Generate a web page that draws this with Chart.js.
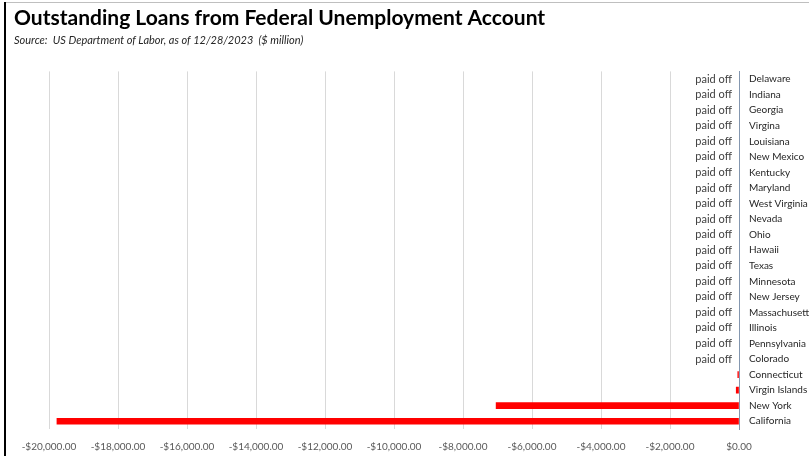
<!DOCTYPE html>
<html>
<head>
<meta charset="utf-8">
<script src="https://cdn.jsdelivr.net/npm/chart.js@4"></script>
<style>
  html, body { margin: 0; padding: 0; background: #fff; }
  #wrap { position: relative; width: 809px; height: 456px; overflow: hidden; }
  #frameTop { position: absolute; left: 5px; top: 2px; width: 804px; height: 1px; background: #bfbfbf; }
  #frameLeft { position: absolute; left: 4px; top: 2px; width: 2px; height: 454px; background: #000; }
</style>
</head>
<body>
<div id="wrap">
  <canvas id="grafica" width="809" height="456"></canvas>
  <div id="frameTop"></div>
  <div id="frameLeft"></div>
</div>
<script>
// Estados (de arriba hacia abajo)
const estados = ["Delaware", "Indiana", "Georgia", "Virgina", "Louisiana", "New Mexico",
  "Kentucky", "Maryland", "West Virginia", "Nevada", "Ohio", "Hawaii", "Texas",
  "Minnesota", "New Jersey", "Massachusetts", "Illinois", "Pennsylvania", "Colorado",
  "Connecticut", "Virgin Islands", "New York", "California"];

// Préstamos pendientes ($ millones, negativos)
const prestamos = [0, 0, 0, 0, 0, 0, 0, 0, 0, 0, 0, 0, 0, 0, 0, 0, 0, 0, 0,
  -35, -80, -7040, -19770];

// Etiqueta para los que ya pagaron
const notas = ["paid off", "paid off", "paid off", "paid off", "paid off", "paid off",
  "paid off", "paid off", "paid off", "paid off", "paid off", "paid off", "paid off",
  "paid off", "paid off", "paid off", "paid off", "paid off", "paid off",
  "", "", "", ""];

const ejeMin = -20000;
const ejeMax = 0;
const ejePaso = 2000;

const fuente = "Lato, 'Open Sans', sans-serif";

function formatoDolar(v) {
  const s = Math.abs(v).toLocaleString("en-US", {minimumFractionDigits: 2, maximumFractionDigits: 2});
  return (v < 0 ? "-$" : "$") + s;
}

// Dibuja "paid off" junto al eje
const pluginNotas = {
  id: "notas",
  afterDatasetsDraw(chart) {
    const ctx = chart.ctx;
    const x = chart.scales.x.getPixelForValue(0);
    ctx.save();
    ctx.font = "11px " + fuente;
    ctx.fillStyle = "#404040";
    ctx.textAlign = "right";
    ctx.textBaseline = "middle";
    notas.forEach((n, i) => {
      if (!n) return;
      ctx.fillText(n, x - 7, chart.scales.y.getPixelForValue(i));
    });
    ctx.restore();
  }
};

new Chart(document.getElementById("grafica"), {
  type: "bar",
  data: {
    labels: estados,
    datasets: [{
      label: "Outstanding",
      data: prestamos,
      // sin marca roja para los que valen cero
      backgroundColor: (c) => (c.raw === 0 ? "rgba(0,0,0,0)" : "#ff0000"),
      barThickness: 6
    }]
  },
  options: {
    indexAxis: "y",
    responsive: false,
    animation: false,
    layout: { padding: { left: 14, right: 0, top: 0, bottom: 0 } },
    plugins: {
      legend: { display: false },
      tooltip: { enabled: false },
      title: {
        display: true,
        text: "Outstanding Loans from Federal Unemployment Account",
        align: "start",
        color: "#000",
        font: { family: fuente, size: 21, weight: "bold" },
        padding: { top: 6, bottom: 0 }
      },
      subtitle: {
        display: true,
        text: "Source:  US Department of Labor, as of 12/28/2023  ($ million)",
        align: "start",
        color: "#262626",
        font: { family: fuente, size: 11, style: "italic" },
        padding: { top: 3, bottom: 24 }
      }
    },
    scales: {
      x: {
        min: ejeMin,
        max: ejeMax,
        afterFit(scale) { scale.paddingLeft = 49; scale.height = 27; },
        ticks: {
          stepSize: ejePaso,
          color: "#595959",
          font: { family: fuente, size: 10 },
          padding: 12,
          maxRotation: 0,
          callback: (v) => formatoDolar(v)
        },
        grid: { color: "#d9d9d9", drawTicks: false },
        border: { display: false }
      },
      y: {
        position: "right",
        afterFit(scale) { scale.width = 70; scale.paddingTop = 0; scale.paddingBottom = 0; },
        ticks: {
          color: "#262626",
          font: { family: fuente, size: 10 },
          padding: 10,
          autoSkip: false
        },
        grid: { display: false, drawTicks: false },
        border: { display: true, color: "#8497b0", width: 1 }
      }
    }
  },
  plugins: [pluginNotas]
});
</script>
</body>
</html>
